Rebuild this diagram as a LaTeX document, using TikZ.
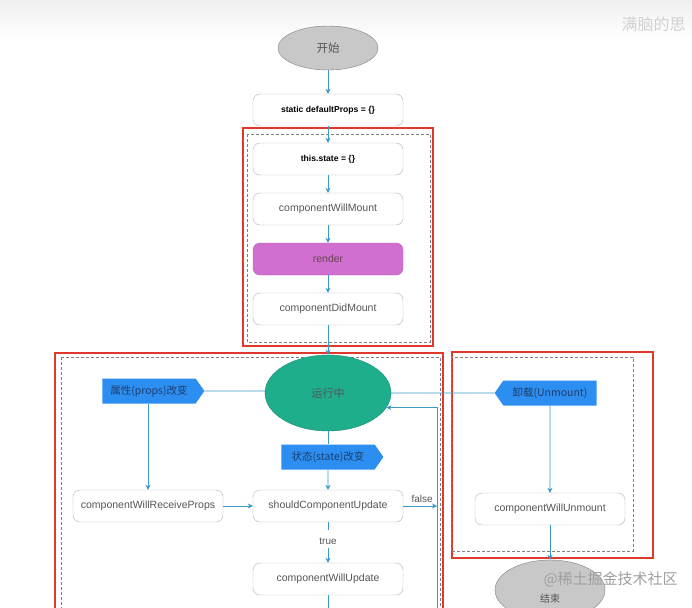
\documentclass[tikz,border=0pt]{standalone}
\usepackage{fontspec}
\setmainfont{Liberation Sans}
\newfontfamily\cjk{Noto Sans CJK SC}
\usetikzlibrary{arrows.meta,shapes.geometric,shapes.symbols}
\definecolor{lnblue}{HTML}{3A98C8}
\definecolor{boxgray}{HTML}{B0B0B0}
\definecolor{txtgray}{HTML}{555555}
\definecolor{redframe}{HTML}{E0392B}
\definecolor{tealfill}{HTML}{1EAE8C}
\definecolor{flagblue}{HTML}{2C8EF0}
\definecolor{flagtxt}{HTML}{1D3F6E}
\definecolor{renderfill}{HTML}{D06FD0}
\definecolor{endgray}{HTML}{C8C8C8}
\tikzset{
  x=1pt, y=-1pt,
  stagebox/.style={draw=boxgray, fill=white, rounded corners=7pt, minimum width=150pt, minimum height=32pt, font=\fontsize{10.5}{12}\selectfont, text=txtgray, inner sep=2pt},
  boldbox/.style={stagebox, font=\fontsize{8.6}{10}\selectfont\bfseries, text=black},
  arr/.style={draw=lnblue, line width=0.8pt, -{Stealth[length=5pt,width=5pt]}},
  plain/.style={draw=lnblue, line width=0.8pt},
  redbox/.style={draw=redframe, line width=1.3pt},
  dashbox/.style={draw=gray, densely dashed, line width=0.6pt},
  flagR/.style={signal, signal to=east, signal pointer angle=110, fill=flagblue, draw=none, minimum width=102pt, minimum height=25pt, font=\cjk\fontsize{10.5}{12}\selectfont, text=flagtxt, inner sep=1pt},
  flagL/.style={flagR, signal to=west},
}
\begin{document}
\begin{tikzpicture}
\useasboundingbox (0,0) rectangle (692,607);
\clip (0,0) rectangle (692,607);
\fill[white] (0,0) rectangle (692,607);
\shade[top color=gray!12, bottom color=white] (0,0) rectangle (692,40);

% frames
\draw[redbox] (243,128) rectangle (433,346);
\draw[dashbox] (247,134) rectangle (430,342);
\draw[redbox] (55,353) rectangle (443,612);
\draw[dashbox] (61,357) rectangle (440,612);
\draw[redbox] (452,352) rectangle (653,558);
\draw[dashbox] (451,357) rectangle (633,551);

% nodes
\node[ellipse, draw=gray, fill=endgray, minimum width=100pt, minimum height=44pt, font=\cjk\fontsize{11.5}{13}\selectfont, text=txtgray] (start) at (328,48) {开始};
\node[boldbox] (defp) at (328,110) {static defaultProps = \{\}};
\node[boldbox] (state) at (328,159) {this.state = \{\}};
\node[stagebox] (cwm) at (328,209) {componentWillMount};
\node[stagebox, fill=renderfill, draw=renderfill!85!black, text=txtgray!80!purple] (render) at (328,259) {render};
\node[stagebox] (cdm) at (328,309) {componentDidMount};

\node[ellipse, fill=tealfill, draw=tealfill!80!black, minimum width=126pt, minimum height=76pt, font=\cjk\fontsize{11}{13}\selectfont, text=txtgray] (run) at (328,393) {运行中};
\node[flagR] (props) at (149,391) {属性(props)改变};
\node[flagR] (stch) at (328,457) {状态(state)改变};
\node[flagL] (unm) at (550,393) {卸载(Unmount)};

\node[stagebox] (cwrp) at (148,506) {componentWillReceiveProps};
\node[stagebox] (scu) at (328,506) {shouldComponentUpdate};
\node[stagebox] (cwu) at (328,579) {componentWillUpdate};
\node[stagebox] (cwun) at (550,509) {componentWillUnmount};

\node[ellipse, draw=gray, fill=endgray, minimum width=110pt, minimum height=60pt] (end) at (550,590) {};
\node[font=\cjk\fontsize{10}{12}\selectfont, text=txtgray] (endlbl) at (550,599) {结束};

\coordinate (fbot) at (437,612);
\coordinate (fpt) at (437,506);
\coordinate (cwuout) at (328,612);

% connectors
\draw[arr] (start) -- (defp);
\draw[arr] (defp) -- (state);
\draw[arr] (state) -- (cwm);
\draw[arr] (cwm) -- (render);
\draw[arr] (render) -- (cdm);
\draw[arr] (cdm) -- (run);
\draw[plain] (props) -- (props -| run.west);
\draw[arr] (props.south -| cwrp.north) -- (cwrp);
\draw[plain] (run) -- (stch);
\draw[arr] (stch) -- (scu);
\draw[arr] (cwrp) -- (scu);
\draw[arr] (scu) -- node[above, font=\fontsize{10}{12}\selectfont, text=txtgray, xshift=2pt] {false} (fpt);
\draw[plain] (scu.south) -- ++(0,8);
\node[font=\fontsize{10}{12}\selectfont, text=txtgray] (truelbl) at (328,541) {true};
\draw[arr] (truelbl.south) -- (cwu);
\draw[plain] (cwu) -- (cwuout);
\draw[arr] (fbot) |- (run.-14);
\draw[plain] (run) -- (unm);
\draw[arr] (unm) -- (cwun);
\draw[arr] (cwun) -- (end);

% watermarks
\node[font=\cjk\fontsize{15}{17}\selectfont, text=gray!75, anchor=west] (wm1) at (540,579) {@稀土掘金技术社区};
\node[font=\cjk\fontsize{16}{18}\selectfont, text=gray!35, anchor=west] (wm2) at (618,24) {满脑的思};
\end{tikzpicture}
\end{document}
